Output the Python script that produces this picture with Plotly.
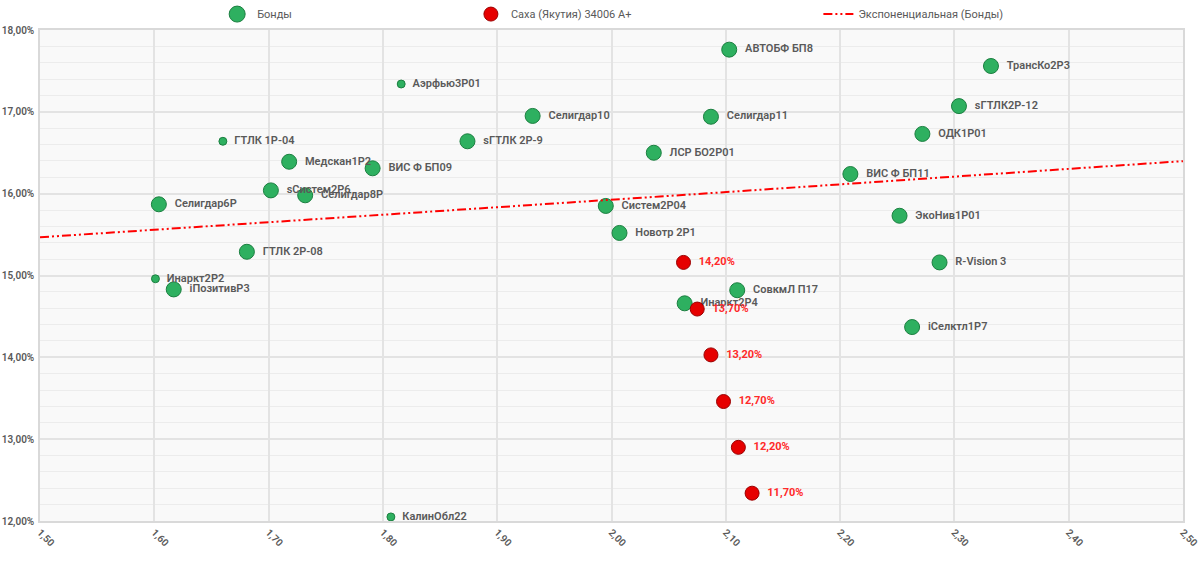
import numpy as np
import plotly.graph_objects as go

# ---- data ----
bond_names = ["АВТОБФ БП8", "ТрансКо2Р3", "Аэрфью3Р01", "Селигдар10", "Селигдар11",
              "sГТЛК2Р-12", "ГТЛК 1Р-04", "sГТЛК 2Р-9", "ОДК1Р01", "ЛСР БО2Р01",
              "Медскан1Р2", "ВИС Ф БП09", "ВИС Ф БП11", "sСистем2Р6", "Селигдар8Р",
              "Селигдар6Р", "Систем2Р04", "ЭкоНив1Р01", "Новотр 2Р1", "ГТЛК 2Р-08",
              "R-Vision 3", "Инаркт2Р2", "iПозитивР3", "СовкмЛ П17", "Инаркт2Р4",
              "iСелктл1Р7", "КалинОбл22"]
bond_duration = [2.103, 2.332, 1.816, 1.931, 2.087,
                 2.304, 1.660, 1.874, 2.272, 2.037,
                 1.718, 1.791, 2.209, 1.702, 1.732,
                 1.604, 1.995, 2.252, 2.007, 1.681,
                 2.287, 1.601, 1.617, 2.110, 2.064,
                 2.263, 1.807]
bond_yield = [17.76, 17.56, 17.34, 16.95, 16.94,
              17.07, 16.64, 16.64, 16.73, 16.50,
              16.39, 16.31, 16.24, 16.04, 15.98,
              15.87, 15.85, 15.73, 15.52, 15.29,
              15.16, 14.96, 14.83, 14.82, 14.66,
              14.37, 12.05]
bond_volume = [100, 100, 28, 100, 100,
               100, 28, 100, 100, 100,
               100, 100, 100, 100, 100,
               100, 100, 100, 100, 100,
               100, 28, 100, 100, 100,
               100, 28]

saha_duration = [2.063, 2.075, 2.087, 2.098, 2.111, 2.123]
saha_yield = [15.16, 14.59, 14.03, 13.46, 12.90, 12.34]
saha_labels = ["14,20%", "13,70%", "13,20%", "12,70%", "12,20%", "11,70%"]

trend_a = 14.17
trend_b = 0.0584

x_ticks = [1.5, 1.6, 1.7, 1.8, 1.9, 2.0, 2.1, 2.2, 2.3, 2.4, 2.5]
y_ticks = [12, 13, 14, 15, 16, 17, 18]

FONT = "Roboto"
LABEL_COLOR = "#595959"
PAD = "\u00a0\u00a0"

fig = go.Figure()

max_size = 15
fig.add_trace(go.Scatter(
    x=bond_duration, y=bond_yield, mode="markers+text", name="Бонды",
    text=[PAD + t for t in bond_names], textposition="middle right",
    textfont=dict(family=FONT, size=11, color=LABEL_COLOR, weight=600),
    marker=dict(size=bond_volume, sizemode="area",
                sizeref=2.0 * max(bond_volume) / (max_size ** 2),
                color="#2eb060", opacity=1,
                line=dict(width=1, color="#1b7f40")),
    cliponaxis=False, legend="legend",
))

fig.add_trace(go.Scatter(
    x=saha_duration, y=saha_yield, mode="markers+text", name="Саха (Якутия) 34006 А+",
    text=[PAD + t for t in saha_labels], textposition="middle right",
    textfont=dict(family=FONT, size=11, color="#ff2a2a", weight=700),
    marker=dict(size=14, color="#e60000", opacity=1,
                line=dict(width=1, color="#9a0000")),
    cliponaxis=False, legend="legend2",
))

tx = np.linspace(x_ticks[0], x_ticks[-1], 60)
ty = trend_a * np.exp(trend_b * tx)
fig.add_trace(go.Scatter(
    x=tx, y=ty, mode="lines", name="Экспоненциальная (Бонды)",
    line=dict(color="#ff0000", width=2, dash="9px,3px,2px,3px,2px,3px"),
    hoverinfo="skip", legend="legend3",
))

leg_common = dict(orientation="h", yref="container", y=0.975, yanchor="middle",
                  xanchor="left", font=dict(family=FONT, size=11, color="#595959"),
                  bgcolor="rgba(0,0,0,0)")

fig.update_layout(
    width=1200, height=563,
    margin=dict(l=40, r=17, t=30, b=42, autoexpand=False),
    paper_bgcolor="white", plot_bgcolor="#f9f9f9",
    font=dict(family=FONT, size=10, color="#595959"),
    showlegend=True,
    legend=dict(x=0.155, **leg_common),
    legend2=dict(x=0.377, **leg_common),
    legend3=dict(x=0.681, **leg_common),
)

fig.update_xaxes(
    range=[1.5, 2.5], tickvals=x_ticks,
    ticktext=[f"{v:.2f}".replace(".", ",") for v in x_ticks],
    tickangle=45, tickfont=dict(size=10, color="#595959", weight=600),
    showgrid=True, gridcolor="#e3e3e3", gridwidth=1.5,
    showline=True, linecolor="#d9d9d9", linewidth=1.5, mirror=True,
    zeroline=False, ticks="", automargin=False,
)
fig.update_yaxes(
    range=[12, 18], tickvals=y_ticks,
    ticktext=[f"{v:.2f}".replace(".", ",") + "%" for v in y_ticks],
    tickfont=dict(size=10, color="#595959", weight=600),
    showgrid=True, gridcolor="#e3e3e3", gridwidth=1.5,
    minor=dict(dtick=0.2, showgrid=True, gridcolor="#ececec", gridwidth=1),
    showline=True, linecolor="#d9d9d9", linewidth=1.5, mirror=True,
    zeroline=False, ticks="", ticklabelstandoff=2, automargin=False,
)

fig.write_html("out.html")
